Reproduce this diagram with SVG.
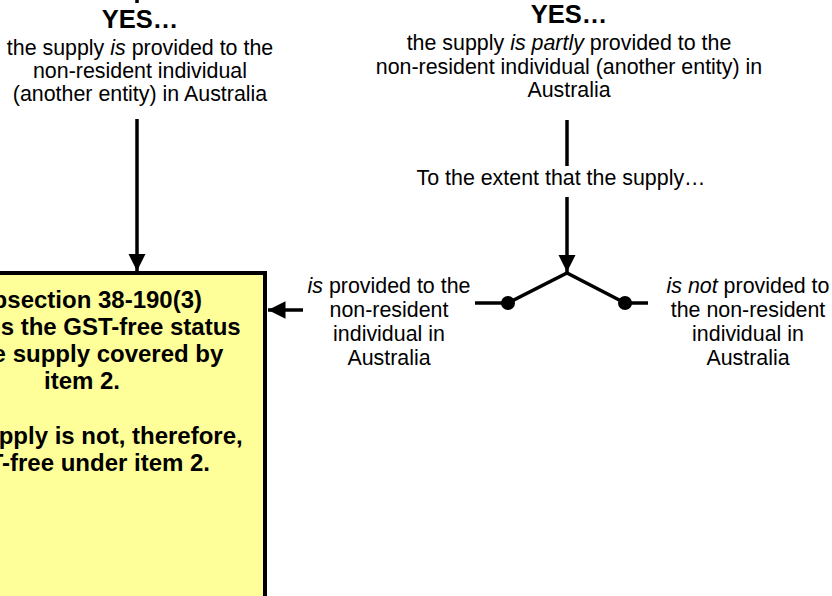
<svg xmlns="http://www.w3.org/2000/svg" width="832" height="596" viewBox="0 0 832 596">
<style>
text{font-family:"Liberation Sans",Arial,sans-serif;fill:#000;text-anchor:middle}
.yes{font-size:25.5px;font-weight:bold}
.t{font-size:21.4px}
.b{font-size:24px;font-weight:bold}
.ln{stroke:#000;stroke-width:3.5;fill:none}
</style>
<defs>
<marker id="ah" markerWidth="5" markerHeight="5" refX="5" refY="2.5" orient="auto" markerUnits="strokeWidth">
<path d="M0,0 L5,2.5 L0,5 Z" fill="#000"/>
</marker>
</defs>
<rect width="832" height="596" fill="#fff"/>
<g id="box">
<rect x="-10" y="273" width="275" height="340" fill="#FFFF99" stroke="#000" stroke-width="4"/>
<text class="b" x="82" y="308">Subsection 38-190(3)</text>
<text class="b" x="82" y="335">negates the GST-free status</text>
<text class="b" x="82" y="362">of the supply covered by</text>
<text class="b" x="82" y="389">item 2.</text>
<text class="b" x="82" y="444">The supply is not, therefore,</text>
<text class="b" x="82" y="471">GST-free under item 2.</text>
</g>
<g id="yes-full">
<text class="yes" x="140" y="28">YES…</text>
<text class="t" x="140" y="55">the supply <tspan font-style="italic">is</tspan> provided to the</text>
<text class="t" x="140" y="78">non-resident individual</text>
<text class="t" x="140" y="101">(another entity) in Australia</text>
</g>
<g id="yes-partly">
<text class="yes" x="569" y="23">YES…</text>
<text class="t" x="569" y="50">the supply <tspan font-style="italic">is partly</tspan> provided to the</text>
<text class="t" x="569" y="74">non-resident individual (another entity) in</text>
<text class="t" x="569" y="97">Australia</text>
</g>
<g id="extent">
<text class="t" x="561" y="185">To the extent that the supply…</text>
</g>
<g id="is-provided">
<text class="t" x="389" y="293"><tspan font-style="italic">is</tspan> provided to the</text>
<text class="t" x="389" y="317">non-resident</text>
<text class="t" x="389" y="341">individual in</text>
<text class="t" x="389" y="365">Australia</text>
</g>
<g id="is-not-provided">
<text class="t" x="748" y="293"><tspan font-style="italic">is not</tspan> provided to</text>
<text class="t" x="748" y="317">the non-resident</text>
<text class="t" x="748" y="341">individual in</text>
<text class="t" x="748" y="365">Australia</text>
</g>
<g id="connectors">
<line class="ln" x1="137" y1="-5" x2="137" y2="3"/>
<line class="ln" x1="137" y1="119" x2="137" y2="271" marker-end="url(#ah)"/>
<line class="ln" x1="567" y1="120" x2="567" y2="166"/>
<line class="ln" x1="567" y1="197" x2="567" y2="272" marker-end="url(#ah)"/>
<polyline class="ln" points="508,303 567,273 625,303"/>
<line class="ln" x1="475" y1="303" x2="508" y2="303"/>
<line class="ln" x1="625" y1="303" x2="648" y2="303"/>
<circle cx="508" cy="303" r="7" fill="#000"/>
<circle cx="625" cy="303" r="7" fill="#000"/>
<line class="ln" x1="303" y1="310" x2="268" y2="310" marker-end="url(#ah)"/>
</g>
</svg>
